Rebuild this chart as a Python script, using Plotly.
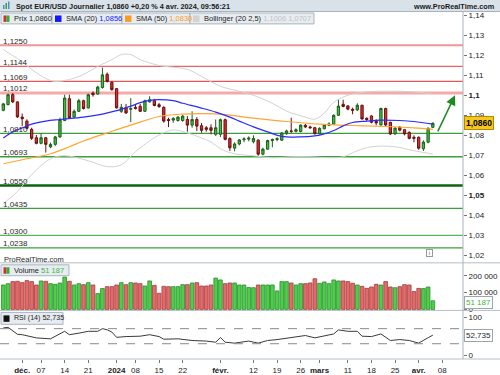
import plotly.graph_objects as go

# ---------------- data ----------------
bars = list(range(92))
opens = [1.0925, 1.0954, 1.1003, 1.0967, 1.0891, 1.0871, 1.0830, 1.0788, 1.0760, 1.0788,
         1.0742, 1.0755, 1.0792, 1.0874, 1.0983, 1.0891, 1.0920, 1.0973, 1.0937, 1.1011,
         1.1006, 1.1039, 1.1105, 1.1064, 1.1033, 1.0920, 1.0937, 1.0930, 1.0940, 1.0945,
         1.0920, 1.0967, 1.0973, 1.0953, 1.0940, 1.0879, 1.0876, 1.0874, 1.0874, 1.0879,
         1.0851, 1.0879, 1.0848, 1.0838, 1.0838, 1.0805, 1.0805, 1.0878, 1.0784, 1.0736,
         1.0757, 1.0778, 1.0781, 1.0768, 1.0776, 1.0706, 1.0731, 1.0774, 1.0779, 1.0776,
         1.0808, 1.0822, 1.0820, 1.0819, 1.0850, 1.0842, 1.0838, 1.0808, 1.0833, 1.0850,
         1.0856, 1.0900, 1.0955, 1.0947, 1.0930, 1.0927, 1.0950, 1.0885, 1.0897, 1.0870,
         1.0852, 1.0934, 1.0865, 1.0807, 1.0840, 1.0828, 1.0815, 1.0790, 1.0790, 1.0733,
         1.0766, 1.0840]
highs = [1.0962, 1.1008, 1.1011, 1.0970, 1.0909, 1.0880, 1.0838, 1.0802, 1.0810, 1.0792,
         1.0764, 1.0797, 1.0888, 1.1003, 1.1003, 1.0929, 1.0982, 1.0978, 1.1008, 1.1019,
         1.1048, 1.1138, 1.1114, 1.1069, 1.1036, 1.0957, 1.0957, 1.0986, 1.0953, 1.0957,
         1.0978, 1.0995, 1.0982, 1.0962, 1.0945, 1.0888, 1.0891, 1.0896, 1.0901, 1.0896,
         1.0920, 1.0891, 1.0862, 1.0846, 1.0855, 1.0879, 1.0884, 1.0884, 1.0790, 1.0765,
         1.0782, 1.0790, 1.0795, 1.0800, 1.0780, 1.0738, 1.0778, 1.0784, 1.0790, 1.0815,
         1.0828, 1.0888, 1.0835, 1.0855, 1.0857, 1.0848, 1.0842, 1.0840, 1.0855, 1.0865,
         1.0905, 1.0980, 1.0978, 1.0950, 1.0938, 1.0960, 1.0953, 1.0890, 1.0900, 1.0880,
         1.0938, 1.0938, 1.0868, 1.0840, 1.0846, 1.0832, 1.0820, 1.0800, 1.0795, 1.0775,
         1.0840, 1.0865]
lows = [1.0920, 1.0949, 1.0962, 1.0887, 1.0846, 1.0830, 1.0777, 1.0755, 1.0755, 1.0714,
        1.0736, 1.0747, 1.0788, 1.0871, 1.0884, 1.0888, 1.0917, 1.0929, 1.0934, 1.0993,
        1.1003, 1.1033, 1.1064, 1.1023, 1.0934, 1.0912, 1.0907, 1.0866, 1.0929, 1.0917,
        1.0917, 1.0963, 1.0945, 1.0937, 1.0863, 1.0841, 1.0863, 1.0868, 1.0868, 1.0818,
        1.0838, 1.0821, 1.0813, 1.0818, 1.0805, 1.0797, 1.0792, 1.0775, 1.0722, 1.0720,
        1.0750, 1.0766, 1.0770, 1.0760, 1.0698, 1.0700, 1.0728, 1.0740, 1.0770, 1.0772,
        1.0803, 1.0812, 1.0815, 1.0815, 1.0836, 1.0832, 1.0804, 1.0805, 1.0830, 1.0846,
        1.0852, 1.0897, 1.0940, 1.0925, 1.0905, 1.0922, 1.0878, 1.0872, 1.0860, 1.0850,
        1.0848, 1.0843, 1.0802, 1.0803, 1.0820, 1.0800, 1.0780, 1.0765, 1.0728, 1.0722,
        1.0760, 1.0837]
closes = [1.0957, 1.1003, 1.0967, 1.0892, 1.0883, 1.0835, 1.0785, 1.0760, 1.0788, 1.0755,
          1.0755, 1.0792, 1.0879, 1.0986, 1.0888, 1.0920, 1.0973, 1.0934, 1.1003, 1.1003,
          1.1041, 1.1102, 1.1069, 1.1028, 1.0937, 1.0940, 1.0912, 1.0934, 1.0934, 1.0920,
          1.0973, 1.0978, 1.0949, 1.0944, 1.0871, 1.0874, 1.0884, 1.0891, 1.0896, 1.0851,
          1.0879, 1.0846, 1.0825, 1.0830, 1.0825, 1.0838, 1.0878, 1.0780, 1.0738, 1.0757,
          1.0777, 1.0782, 1.0786, 1.0784, 1.0706, 1.0731, 1.0774, 1.0779, 1.0783, 1.0812,
          1.0822, 1.0820, 1.0828, 1.0851, 1.0842, 1.0838, 1.0808, 1.0835, 1.0851, 1.0857,
          1.0900, 1.0946, 1.0944, 1.0931, 1.0925, 1.0950, 1.0882, 1.0879, 1.0865, 1.0862,
          1.0934, 1.0852, 1.0807, 1.0836, 1.0826, 1.0807, 1.0785, 1.0785, 1.0736, 1.0766,
          1.0835, 1.0860]
volumes = [145000, 153000, 165000, 167000, 159000, 171000, 165000, 145000, 169000, 167000,
           153000, 149000, 157000, 192000, 167000, 145000, 153000, 147000, 159000, 145000,
           94000, 124000, 135000, 135000, 145000, 159000, 147000, 159000, 157000, 153000,
           139000, 169000, 143000, 96000, 137000, 135000, 135000, 135000, 147000, 147000,
           157000, 159000, 139000, 139000, 145000, 186000, 175000, 153000, 157000, 157000,
           145000, 145000, 130000, 129000, 145000, 145000, 145000, 145000, 110000, 165000,
           165000, 157000, 145000, 153000, 153000, 157000, 182000, 155000, 163000, 153000,
           175000, 169000, 169000, 165000, 155000, 145000, 137000, 125000, 133000, 149000,
           145000, 165000, 133000, 129000, 135000, 147000, 145000, 106000, 125000, 124000,
           133000, 51187]

sma20_bars = [0, 2, 4, 6, 9, 12, 17, 21, 24, 27, 29, 31, 33, 36, 38, 42, 45, 48, 50, 53,
              56, 59, 63, 66, 68, 70, 72, 74, 77, 80, 84, 87, 91]
sma20_vals = [1.0787, 1.0817, 1.0837, 1.0856, 1.0871, 1.0879, 1.0891, 1.0906, 1.0923, 1.0946,
              1.0963, 1.0975, 1.0978, 1.0973, 1.0960, 1.0936, 1.0916, 1.0891, 1.0871, 1.0842,
              1.0817, 1.0795, 1.0792, 1.0797, 1.0807, 1.0824, 1.0847, 1.0864, 1.0871, 1.0876,
              1.0874, 1.0869, 1.0856]
sma50_bars = [0, 4, 10, 14, 17, 22, 27, 33, 38, 43, 47, 53, 60, 67, 74, 81, 87, 91]
sma50_vals = [1.0658, 1.0678, 1.0708, 1.0743, 1.0772, 1.0812, 1.0851, 1.0894, 1.0906, 1.0908,
              1.0903, 1.0886, 1.0869, 1.0856, 1.0849, 1.0844, 1.0837, 1.0830]
bb_upper_bars = [0, 2, 4, 6, 9, 11, 14, 17, 20, 23, 25, 27, 29, 33, 39, 42, 46, 50, 53, 57,
                 60, 64, 66, 68, 70, 73, 76, 80, 84, 88, 91]
bb_upper_vals = [1.1228, 1.1198, 1.1168, 1.1129, 1.1084, 1.1069, 1.1079, 1.1104, 1.1144, 1.1178,
                 1.1203, 1.1203, 1.1178, 1.1149, 1.1129, 1.1094, 1.1045, 1.1020, 1.1000, 1.0960,
                 1.0921, 1.0891, 1.0881, 1.0911, 1.0965, 1.1000, 1.1015, 1.1020, 1.1020, 1.1015,
                 1.1006]
bb_lower_bars = [0, 3, 6, 10, 13, 18, 22, 25, 28, 31, 33, 36, 39, 42, 44, 46, 49, 53, 57, 61,
                 65, 69, 72, 75, 78, 83, 87, 91]
bb_lower_vals = [1.0460, 1.0520, 1.0604, 1.0683, 1.0698, 1.0673, 1.0644, 1.0653, 1.0718, 1.0772,
                 1.0802, 1.0827, 1.0812, 1.0787, 1.0767, 1.0733, 1.0708, 1.0698, 1.0688, 1.0693,
                 1.0693, 1.0688, 1.0693, 1.0723, 1.0743, 1.0743, 1.0723, 1.0707]
rsi_bars = [0, 1, 3, 4, 7, 9, 10, 13, 14, 16, 18, 20, 21, 22, 23, 24, 26, 29, 31, 33,
            34, 37, 40, 43, 45, 46, 47, 49, 52, 54, 56, 58, 61, 63, 64, 66, 69, 70, 71, 73,
            75, 76, 78, 80, 82, 84, 86, 88, 90, 91]
rsi_vals = [72, 73.5, 55, 54, 45.5, 43, 43, 63, 54, 58, 63, 63, 70, 67, 61, 47, 49, 50, 54, 49,
            42, 43, 38.6, 37, 34, 46.5, 34, 31.6, 37, 31.6, 38.6, 41, 47, 50, 51.8, 45.6, 53.5, 56, 66.7, 63,
            63, 50, 49, 56, 38.6, 41, 38.6, 31.6, 46, 52.735]

tick_bars = [4, 8, 13, 18, 24, 28, 33, 38, 46, 53, 58, 63, 67, 73, 78, 83, 88, 93]
tick_labels = ["<b>déc.</b>", "07", "14", "21", "<b>2024</b>", "08", "15", "22", "<b>févr.</b>",
               "12", "19", "26", "<b>mars</b>", "11", "18", "25", "<b>avr.</b>", "08"]
price_ticks = [1.02, 1.03, 1.04, 1.05, 1.06, 1.07, 1.08, 1.09, 1.10, 1.11, 1.12, 1.13, 1.14]
price_tick_labels = ["1,02", "1,03", "1,04", "<b>1,05</b>", "1,06", "1,07", "1,08", "1,09",
                     "<b>1,1</b>", "1,11", "1,12", "1,13", "1,14"]
vol_ticks = [0, 100000, 200000]
vol_tick_labels = ["0", "100 000", "200 000"]
rsi_ticks = [0, 100]
rsi_tick_labels = ["0", "100"]
resistance_levels = [1.1250, 1.1144, 1.1069, 1.1012]
resistance_labels = ["1,1250", "1,1144", "1,1069", "1,1012"]
support_levels = [1.0810, 1.0693, 1.0550, 1.0435, 1.0300, 1.0238]
support_labels = ["1,0810", "1,0693", "1,0550", "1,0435", "1,0300", "1,0238"]
arrow_from = (91.9, 1.0812)
arrow_to = (95.7, 1.1000)
last_price, last_sma20, last_sma50 = "1,0860", "1,0856", "1,0830"
bb_text = "1,1006 1,0707"
last_volume, last_rsi = "51 187", "52,735"
title = "Spot EUR/USD Journalier 1,0860 +0,20 % 4 avr. 2024, 09:56:21"

# ---------------- layout helpers ----------------
W, H = 500, 375
ML, MR, MT, MB = 0, 37, 12, 13
PW, PH = W - ML - MR, H - MT - MB
FONT = "Liberation Sans, Arial, sans-serif"


def px(x):
    return (x - ML) / PW


def py(y):
    return (H - MB - y) / PH


MAIN_DOM = [py(265), 1.0]
VOL_DOM = [py(313), py(265)]
RSI_DOM = [0.0, py(313)]

fig = go.Figure()

# Bollinger / SMAs under candles
fig.add_trace(go.Scatter(x=bb_upper_bars, y=bb_upper_vals, mode="lines", line=dict(color="#d2d2d2", width=1, shape="spline"), hoverinfo="skip", yaxis="y"))
fig.add_trace(go.Scatter(x=bb_lower_bars, y=bb_lower_vals, mode="lines", line=dict(color="#d2d2d2", width=1, shape="spline"), hoverinfo="skip", yaxis="y"))
fig.add_trace(go.Scatter(x=sma50_bars, y=sma50_vals, mode="lines", line=dict(color="#ffa530", width=1.2, shape="spline"), hoverinfo="skip", yaxis="y"))
fig.add_trace(go.Scatter(x=sma20_bars, y=sma20_vals, mode="lines", line=dict(color="#2a2aff", width=1.2, shape="spline"), hoverinfo="skip", yaxis="y"))

fig.add_trace(go.Candlestick(
    x=bars, open=opens, high=highs, low=lows, close=closes,
    increasing=dict(fillcolor="#3cc03c", line=dict(color="#1e5e1e", width=1)),
    decreasing=dict(fillcolor="#dc2e2e", line=dict(color="#6a1010", width=1)),
    whiskerwidth=0, hoverinfo="skip", xaxis="x", yaxis="y"))

vol_colors = ["#4ccd4c" if c >= o else "#e26a6a" for o, c in zip(opens, closes)]
vol_lines = ["#2a8f2a" if c >= o else "#a83a3a" for o, c in zip(opens, closes)]
fig.add_trace(go.Bar(x=bars, y=volumes, marker=dict(color=vol_colors, line=dict(color=vol_lines, width=0.8)),
                     width=0.78, hoverinfo="skip", yaxis="y2"))

fig.add_trace(go.Scatter(x=rsi_bars, y=rsi_vals, mode="lines", line=dict(color="#3a3a3a", width=1),
                         hoverinfo="skip", yaxis="y3"))

shapes = []
annotations = []

# title bar
shapes.append(dict(type="rect", xref="paper", yref="paper", x0=px(0), x1=px(W), y0=py(11.5), y1=py(0),
                   fillcolor="#d9e2e9", line=dict(width=0), layer="above"))
shapes.append(dict(type="line", xref="paper", yref="paper", x0=px(0), x1=px(W), y0=py(11.5), y1=py(11.5),
                   line=dict(color="#a7b4bd", width=1), layer="above"))

# level lines
res_styles = [("#f29494", 2), ("#e86464", 1.3), ("#e85454", 1.3), ("#f5a9a9", 3)]
sup_styles = [("#3b9d3b", 1.3), ("#3b9d3b", 1.3), ("#0c650c", 2.5), ("#3b9d3b", 1.3), ("#5bb45b", 1.3), ("#3b9d3b", 1.3)]
for lvl, lab, (col, w) in list(zip(resistance_levels, resistance_labels, res_styles)) + \
        list(zip(support_levels, support_labels, sup_styles)):
    shapes.append(dict(type="line", xref="paper", yref="y", x0=0, x1=1, y0=lvl, y1=lvl,
                       line=dict(color=col, width=w), layer="below"))
    annotations.append(dict(text=lab, xref="paper", yref="y", x=px(2), y=lvl, xanchor="left", yanchor="bottom",
                            showarrow=False, font=dict(size=8, color="#2a2a2a", family=FONT), borderpad=0, yshift=-1.5))

# RSI dashed lines
for lv in (70, 30):
    shapes.append(dict(type="line", xref="paper", yref="y3", x0=0, x1=1, y0=lv, y1=lv,
                       line=dict(color="#8a8a8a", width=1, dash="dash")))

# panel separators
for yy in (265, 313, 362):
    shapes.append(dict(type="line", xref="paper", yref="paper", x0=px(0), x1=px(W), y0=py(yy), y1=py(yy),
                       line=dict(color="#b3bec6", width=1), layer="above"))
shapes.append(dict(type="line", xref="paper", yref="paper", x0=1, x1=1, y0=0, y1=1,
                   line=dict(color="#a8b2b9", width=1), layer="above"))


def box(x0, x1, y0, y1):
    shapes.append(dict(type="rect", xref="paper", yref="paper", x0=px(x0), x1=px(x1), y0=py(y1), y1=py(y0),
                       fillcolor="#e6ecf0", line=dict(color="#a9b5bd", width=1), layer="above"))


def icon(x0, x1, y0, y1, col):
    shapes.append(dict(type="rect", xref="paper", yref="paper", x0=px(x0), x1=px(x1), y0=py(y1), y1=py(y0),
                       fillcolor=col, line=dict(width=0), layer="above"))


def label(x, y, text, size=7.5, anchor="left", color="#1e1e1e"):
    annotations.append(dict(text=text, xref="paper", yref="paper", x=px(x), y=py(y), xanchor=anchor,
                            yanchor="middle", showarrow=False, font=dict(size=size, color=color, family=FONT)))


# legend boxes (top row)
box(1, 52, 13, 24)
icon(3.5, 6.5, 15.5, 22, "#d03030")
icon(6.5, 9.5, 15.5, 22, "#33b033")
label(12, 18.8, "Prix " + last_price)
box(52, 122, 13, 24)
icon(55, 61.5, 15.5, 22, "#1515ff")
label(64, 18.8, "SMA (20) <span style='color:#2020ff'>" + last_sma20 + "</span>")
box(122, 190, 13, 24)
icon(125, 131.5, 15.5, 22, "#ff9a20")
label(134, 18.8, "SMA (50) <span style='color:#ff9a20'>" + last_sma50 + "</span>")
box(190, 314, 13, 24)
icon(193, 199.5, 15.5, 22, "#d2d2d2")
label(202, 18.8, "Bollinger (20 2,5) <span style='color:#c4c4c4'>" + bb_text + "</span>")

# title
label(14, 6, "<b>" + title + "</b>", size=7.3, color="#1a1a1a")
label(497, 6, "<b>www.ProRealTime.com</b>", size=7.3, anchor="right", color="#1a1a1a")
# small logo near title
icon(3, 4.5, 5, 9, "#4a90c8")
icon(5.5, 7, 3, 9, "#3aa03a")
icon(8, 9.5, 1.5, 9, "#4a90c8")

label(2, 261.5, "ProRealTime.com", size=7.5, color="#2a2a2a")

# volume legend
box(1, 69, 267, 278)
icon(3.5, 6.5, 269.5, 276, "#d03030")
icon(6.5, 9.5, 269.5, 276, "#33b033")
label(12, 272.8, "Volume <span style='color:#3cb83c'>" + last_volume + "</span>")
# RSI legend
box(1, 63, 315, 327)
icon(3.5, 9.5, 318, 324.5, "#111111")
label(12, 321, "RSI (14) " + last_rsi, size=7.1)

# info icon
annotations.append(dict(text="i", xref="paper", yref="paper", x=px(432.5), y=py(259.5), showarrow=False,
                        font=dict(size=6, color="#666", family=FONT), bordercolor="#999", borderwidth=1,
                        borderpad=0, bgcolor="#ffffff", width=5, height=6))

# right tags
annotations.append(dict(text="<b>" + last_price + "</b>", xref="paper", yref="y", x=px(464), y=1.0860,
                        xanchor="left", yanchor="middle", showarrow=False, bgcolor="#f6c81e",
                        bordercolor="#b58a00", borderwidth=1, borderpad=1,
                        font=dict(size=8.5, color="#000", family=FONT)))
annotations.append(dict(text=last_volume, xref="paper", yref="paper", x=px(464), y=py(305),
                        xanchor="left", yanchor="middle", showarrow=False, bgcolor="#ffffff",
                        bordercolor="#9aa5ad", borderwidth=1, borderpad=1,
                        font=dict(size=8, color="#3cb83c", family=FONT)))
annotations.append(dict(text=last_rsi, xref="paper", yref="y3", x=px(464), y=52.735,
                        xanchor="left", yanchor="middle", showarrow=False, bgcolor="#ffffff",
                        bordercolor="#9aa5ad", borderwidth=1, borderpad=1,
                        font=dict(size=8, color="#1e1e1e", family=FONT)))

# green arrow
annotations.append(dict(x=arrow_to[0], y=arrow_to[1], ax=arrow_from[0], ay=arrow_from[1],
                        xref="x", yref="y", axref="x", ayref="y", text="", showarrow=True,
                        arrowhead=2, arrowsize=1.3, arrowwidth=1.5, arrowcolor="#1f8a1f"))

axis_font = dict(size=8, color="#222222", family=FONT)
common_y = dict(side="right", showgrid=False, zeroline=False, ticks="outside", ticklen=3,
                tickcolor="#777", tickfont=axis_font, showline=False, fixedrange=True)

fig.update_layout(
    width=W, height=H, margin=dict(l=ML, r=MR, t=MT, b=MB, pad=0),
    paper_bgcolor="#ffffff", plot_bgcolor="#ffffff", showlegend=False,
    font=dict(family=FONT, size=8, color="#222"),
    xaxis=dict(range=[-0.70, 97.39], anchor="y3", tickvals=tick_bars, ticktext=tick_labels,
               ticks="outside", ticklen=3, tickcolor="#777", tickfont=axis_font, showgrid=False,
               zeroline=False, showline=False, rangeslider=dict(visible=False)),
    yaxis=dict(domain=MAIN_DOM, range=[1.016337, 1.141584], tickvals=price_ticks,
               ticktext=price_tick_labels, anchor="x", **common_y),
    yaxis2=dict(domain=VOL_DOM, range=[-5882, 276470], tickvals=vol_ticks, ticktext=vol_tick_labels,
                anchor="x", **common_y),
    yaxis3=dict(domain=RSI_DOM, range=[-10.53, 118.42], tickvals=rsi_ticks, ticktext=rsi_tick_labels,
                anchor="x", **common_y),
    bargap=0.2, shapes=shapes, annotations=annotations,
)

fig.write_html("out.html", config=dict(displayModeBar=False, staticPlot=True),
               post_script="document.body.style.margin='0';document.body.style.overflow='hidden';")
